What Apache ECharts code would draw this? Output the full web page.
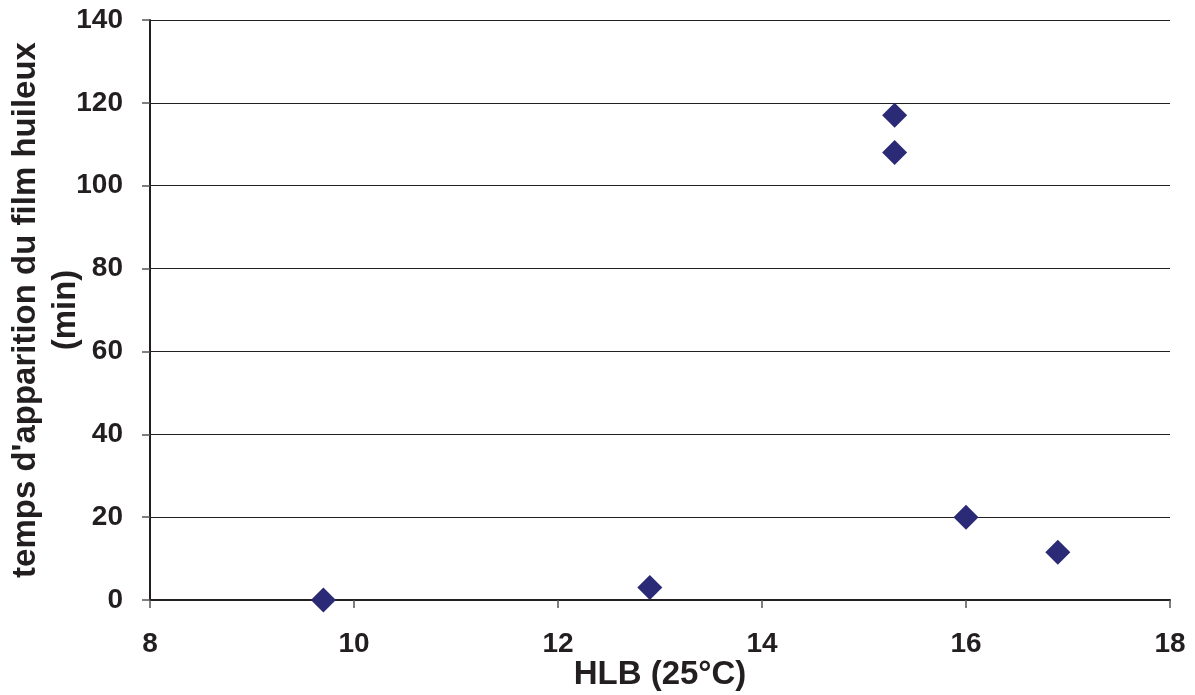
<!DOCTYPE html>
<html>
<head>
<meta charset="utf-8">
<script src="https://cdn.jsdelivr.net/npm/echarts@6/dist/echarts.min.js"></script>
<style>
  html, body { margin: 0; padding: 0; background: #fff; }
  #main { width: 1195px; height: 695px; }
</style>
</head>
<body>
<div id="main"></div>
<script>
// valeurs
const hlb = [9.7, 12.9, 15.3, 15.3, 16.0, 16.9]
const tempsFilm = [0, 3, 117, 108, 20, 11.5]

const xTicks = [8, 10, 12, 14, 16, 18]
const yTicks = [0, 20, 40, 60, 80, 100, 120, 140]

const points = hlb.map((h, i) => [h, tempsFilm[i]])

const labelFont = {
  fontFamily: 'Liberation Sans, Arial, sans-serif',
  fontWeight: 'bold',
  fontSize: 28,
  color: '#231f20'
}

let myChart = echarts.init(document.getElementById('main'))
const option = {
  animation: false,
  backgroundColor: '#ffffff',
  grid: { left: 150, right: 25, top: 20, bottom: 95, containLabel: false, outerBoundsMode: 'none' },
  xAxis: {
    type: 'value',
    min: xTicks[0],
    max: xTicks[xTicks.length - 1],
    interval: 2,
    name: 'HLB (25°C)',
    nameLocation: 'middle',
    nameGap: 58,
    nameMoveOverlap: false,
    nameTextStyle: Object.assign({}, labelFont, { fontSize: 33 }),
    axisLine: { show: true, onZero: false, lineStyle: { color: '#231f20', width: 2 } },
    axisTick: { show: true, length: 8, lineStyle: { color: '#555', width: 1.5 } },
    axisLabel: Object.assign({}, labelFont, { margin: 30 }),
    splitLine: { show: false }
  },
  yAxis: {
    type: 'value',
    min: yTicks[0],
    max: yTicks[yTicks.length - 1],
    interval: 20,
    name: "temps d'apparition du film huileux\n(min)",
    nameLocation: 'middle',
    nameGap: 64,
    nameMoveOverlap: false,
    nameTextStyle: Object.assign({}, labelFont, { fontSize: 33, lineHeight: 40 }),
    axisLine: { show: true, onZero: false, lineStyle: { color: '#231f20', width: 2 } },
    axisTick: { show: true, length: 8, lineStyle: { color: '#555', width: 1.5 } },
    axisLabel: Object.assign({}, labelFont, { margin: 27 }),
    splitLine: { show: true, lineStyle: { color: '#231f20', width: 1.2 } }
  },
  series: [
    {
      type: 'scatter',
      data: points,
      symbol: 'diamond',
      symbolSize: 25,
      itemStyle: { color: '#2b2a77', opacity: 1 }
    }
  ]
}
myChart.setOption(option)
</script>
</body>
</html>
